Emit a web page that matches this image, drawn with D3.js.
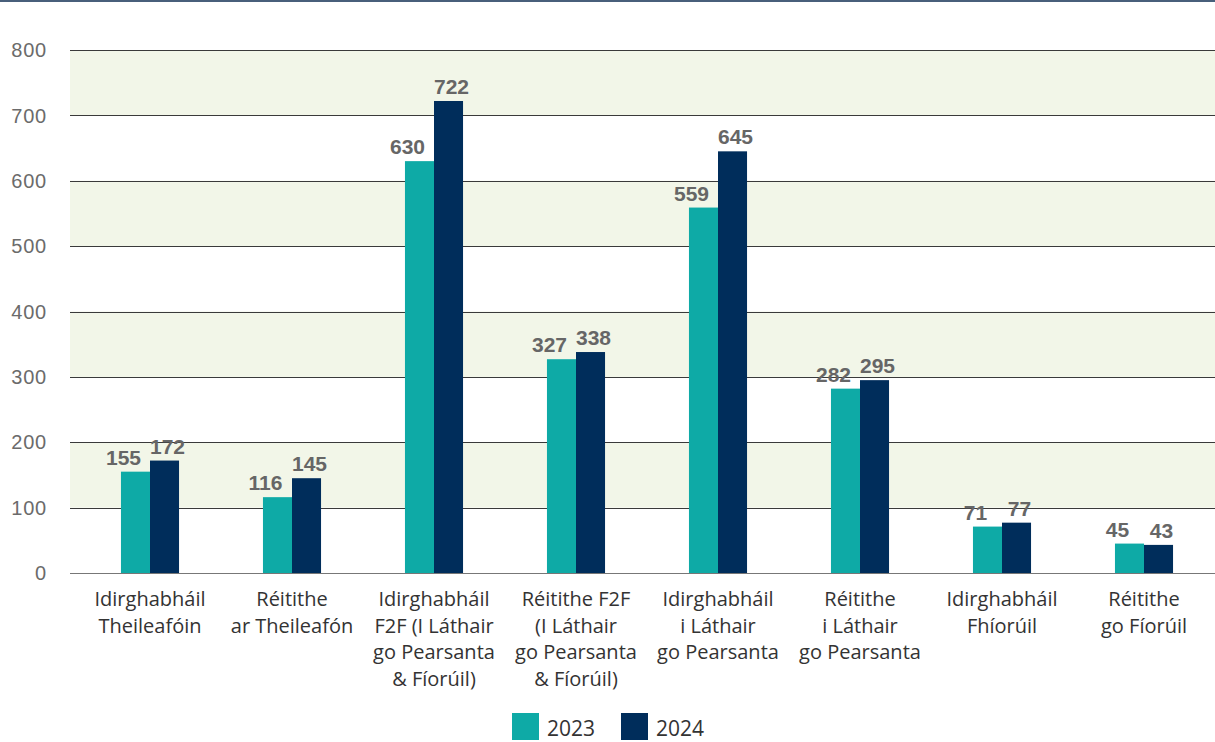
<!DOCTYPE html>
<html><head><meta charset="utf-8">
<script src="https://cdn.jsdelivr.net/npm/d3@7"></script>
<style>body{margin:0;background:#fff}svg{display:block}</style>
</head><body><svg id="c" width="1215" height="742"></svg>
<script>
const categories = [
  ["Idirghabháil","Theileafóin"],
  ["Réitithe","ar Theileafón"],
  ["Idirghabháil","F2F (I Láthair","go Pearsanta","& Fíorúil)"],
  ["Réitithe F2F","(I Láthair","go Pearsanta","& Fíorúil)"],
  ["Idirghabháil","i Láthair","go Pearsanta"],
  ["Réitithe","i Láthair","go Pearsanta"],
  ["Idirghabháil","Fhíorúil"],
  ["Réitithe","go Fíorúil"]
];
const series2023 = [155,116,630,327,559,282,71,45];
const series2024 = [172,145,722,338,645,295,77,43];
const seriesNames = ["2023","2024"];
const yTicks = [0,100,200,300,400,500,600,700,800];

const colors = ["#0eaaa6","#002d5b"];
const svg = d3.select("#c");
const W = 1215, H = 742;
const mLeft = 70, mRight = 1215, mTop = 50, mBottom = 573;

const x = d3.scaleBand().domain(d3.range(categories.length)).range([79, 1215]).paddingInner(0.591).paddingOuter(0.2955);
const x1 = d3.scaleBand().domain([0,1]).range([0, x.bandwidth()]);
const y = d3.scaleLinear().domain([0,800]).range([mBottom, mTop]);

// top rule
svg.append("line").attr("x1",0).attr("x2",W).attr("y1",1).attr("y2",1).attr("stroke","#0b2a4f").attr("stroke-width",1.5);

// bands
for (let i = 1; i < yTicks.length; i += 2) {
  svg.append("rect").attr("x",mLeft).attr("width",mRight-mLeft)
    .attr("y",y(yTicks[i+1])).attr("height",y(yTicks[i])-y(yTicks[i+1]))
    .attr("fill","#f2f6e8");
}
// gridlines
svg.append("g").selectAll("line").data(yTicks).join("line")
  .attr("x1",mLeft).attr("x2",mRight)
  .attr("y1",d=>Math.round(y(d))+0.5).attr("y2",d=>Math.round(y(d))+0.5)
  .attr("stroke",d=>d===0?"#777":"#3a3a3a").attr("stroke-width",1);

// y labels
svg.append("g").selectAll("text").data(yTicks).join("text")
  .attr("x",47).attr("y",d=>y(d)).attr("dy","0.36em").attr("text-anchor","end")
  .attr("font-family","Liberation Sans, Arial, sans-serif").attr("font-size",20).attr("letter-spacing",0.8).attr("fill","#6b6b6b")
  .text(d=>d);

const data = [series2023, series2024];
data.forEach((vals, s) => {
  svg.append("g").selectAll("rect").data(vals).join("rect")
    .attr("x",(d,i)=>x(i)+x1(s)).attr("width",x1.bandwidth())
    .attr("y",d=>y(d)).attr("height",d=>y(0)-y(d)).attr("fill",colors[s]);
  svg.append("g").selectAll("text").data(vals).join("text")
    .attr("x",(d,i)=>x(i)+x1(s)+x1.bandwidth()/2 + (s===0?-12:3))
    .attr("y",d=>y(d)-7)
    .attr("text-anchor","middle")
    .attr("font-family","Liberation Sans, Arial, sans-serif").attr("font-weight","bold")
    .attr("font-size",21).attr("fill","#666")
    .text(d=>d);
});

// x labels
const xl = svg.append("g").selectAll("text").data(categories).join("text")
  .attr("x",(d,i)=>x(i)+x.bandwidth()/2).attr("y",606)
  .attr("text-anchor","middle").attr("font-family","Open Sans, Noto Sans, sans-serif")
  .attr("font-size",20).attr("fill","#333");
xl.selectAll("tspan").data(d=>d).join("tspan")
  .attr("x",function(){return d3.select(this.parentNode).attr("x");})
  .attr("dy",(d,i)=>i===0?0:26.5).text(d=>d);

// legend
const legX = [512, 621];
seriesNames.forEach((n,i)=>{
  svg.append("rect").attr("x",legX[i]).attr("y",713).attr("width",27).attr("height",27).attr("fill",colors[i]);
  svg.append("text").attr("x",legX[i]+35).attr("y",736).attr("font-family","Open Sans, Noto Sans, sans-serif")
    .attr("font-size",21).attr("fill","#333").text(n);
});
</script></body></html>
